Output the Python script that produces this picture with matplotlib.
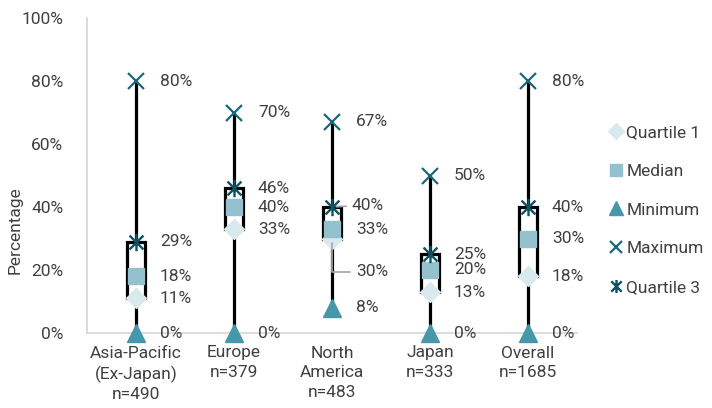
import matplotlib
matplotlib.use("Agg")
import matplotlib.pyplot as plt
from matplotlib.path import Path

categories = ["Asia-Pacific\n(Ex-Japan)\nn=490", "Europe\nn=379", "North\nAmerica\nn=483",
              "Japan\nn=333", "Overall\nn=1685"]
quartile1 = [11, 33, 30, 13, 18]
median = [18, 40, 33, 20, 30]
minimum = [0, 0, 8, 0, 0]
maximum = [80, 70, 67, 50, 80]
quartile3 = [29, 46, 40, 25, 40]

plt.rcParams['font.family'] = ['Roboto', 'DejaVu Sans']
narrow = ['Liberation Sans Narrow', 'Roboto', 'DejaVu Sans']

c_q1 = '#d9e9ee'
c_med = '#93c1cd'
c_min = '#4797aa'
c_max = '#17687b'
c_q3 = '#0f5262'
txt = '#404040'

star = Path([(-1, -1), (1, 1), (-1, 1), (1, -1), (0, -1.25), (0, 1.25)],
            [Path.MOVETO, Path.LINETO, Path.MOVETO, Path.LINETO, Path.MOVETO, Path.LINETO])

fig = plt.figure(figsize=(7.12, 4.08), dpi=100)
ax = fig.add_axes([87 / 712, 75 / 408, 490 / 712, 315 / 408])

x = list(range(len(categories)))
hw = 0.095
for i in x:
    ax.plot([i, i], [minimum[i], maximum[i]], color='black', lw=2.3, zorder=2, solid_capstyle='butt')
    ax.fill_between([i - hw, i + hw], quartile1[i], quartile3[i], color='white', zorder=3, lw=0)
    ax.plot([i - hw, i - hw, i + hw, i + hw], [quartile1[i], quartile3[i], quartile3[i], quartile1[i]],
            color='black', lw=2.3, zorder=4, solid_joinstyle='miter')

ax.plot(x, quartile1, ls='none', marker='D', ms=10.5, color=c_q1, zorder=5, label='Quartile 1')
ax.plot(x, median, ls='none', marker='s', ms=11.5, color=c_med, zorder=5, label='Median')
ax.plot(x, minimum, ls='none', marker='^', ms=12.5, color=c_min, zorder=5, label='Minimum', clip_on=False)
ax.plot(x, maximum, ls='none', marker='x', ms=11, mew=1.6, color=c_max, zorder=5, label='Maximum')
ax.plot(x, quartile3, ls='none', marker=star, ms=12.5, mew=1.7, color=c_q3, zorder=5, label='Quartile 3')

# data labels; North America needs a couple of them moved with leader lines
moved = {(2, 'q3'): 2, (2, 'q1'): -33}
for i in x:
    for key, vals in [('q1', quartile1), ('med', median), ('min', minimum), ('max', maximum), ('q3', quartile3)]:
        v = vals[i]
        dy = moved.get((i, key), 0)
        if dy == 0:
            ax.annotate(f"{v}%", (i, v), xytext=(24, 0), textcoords='offset pixels',
                        ha='left', va='center', fontsize=12.5, color=txt, zorder=6)
        else:
            ax.annotate(f"{v}%", (i, v), xytext=(20 if dy > 0 else 24, dy), textcoords='offset pixels',
                        ha='left', va='center', fontsize=12.5, color=txt, zorder=6,
                        arrowprops=dict(arrowstyle='-', color='#a6a6a6', lw=1.2, shrinkA=2, shrinkB=3,
                                        connectionstyle='angle,angleA=0,angleB=90' if dy < 0 else 'arc3'))

ax.set_xlim(-0.5, 4.5)
ax.set_ylim(0, 100)
ax.set_yticks(range(0, 101, 20))
ax.set_yticklabels([f"{t}%" for t in range(0, 101, 20)], fontsize=12.5, color=txt)
ax.set_xticks(x)
ax.set_xticklabels(categories, fontsize=12.5, color=txt, family=narrow, va='top', linespacing=1.38)
ax.tick_params(axis='both', length=0)
ax.tick_params(axis='y', pad=17)
ax.tick_params(axis='x', pad=9)
fig.text(15 / 712, 1 - 230 / 408, "Percentage", rotation=90, ha='center', va='center',
         fontsize=12.5, color=txt, family=narrow)

for s in ['top', 'right']:
    ax.spines[s].set_visible(False)
for s in ['left', 'bottom']:
    ax.spines[s].set_color('#d9d9d9')
    ax.spines[s].set_linewidth(1.3)
ax.set_zorder(1)

handles, labels = ax.get_legend_handles_labels()
fig.legend(handles, labels, loc='center left', bbox_to_anchor=(608 / 712, 1 - 210 / 408),
           frameon=False, fontsize=12.5, labelcolor=txt, markerscale=0.75,
           handlelength=0.9, handletextpad=0.15, borderpad=0, borderaxespad=0, labelspacing=1.36)

fig.savefig("out.png", dpi=100)
